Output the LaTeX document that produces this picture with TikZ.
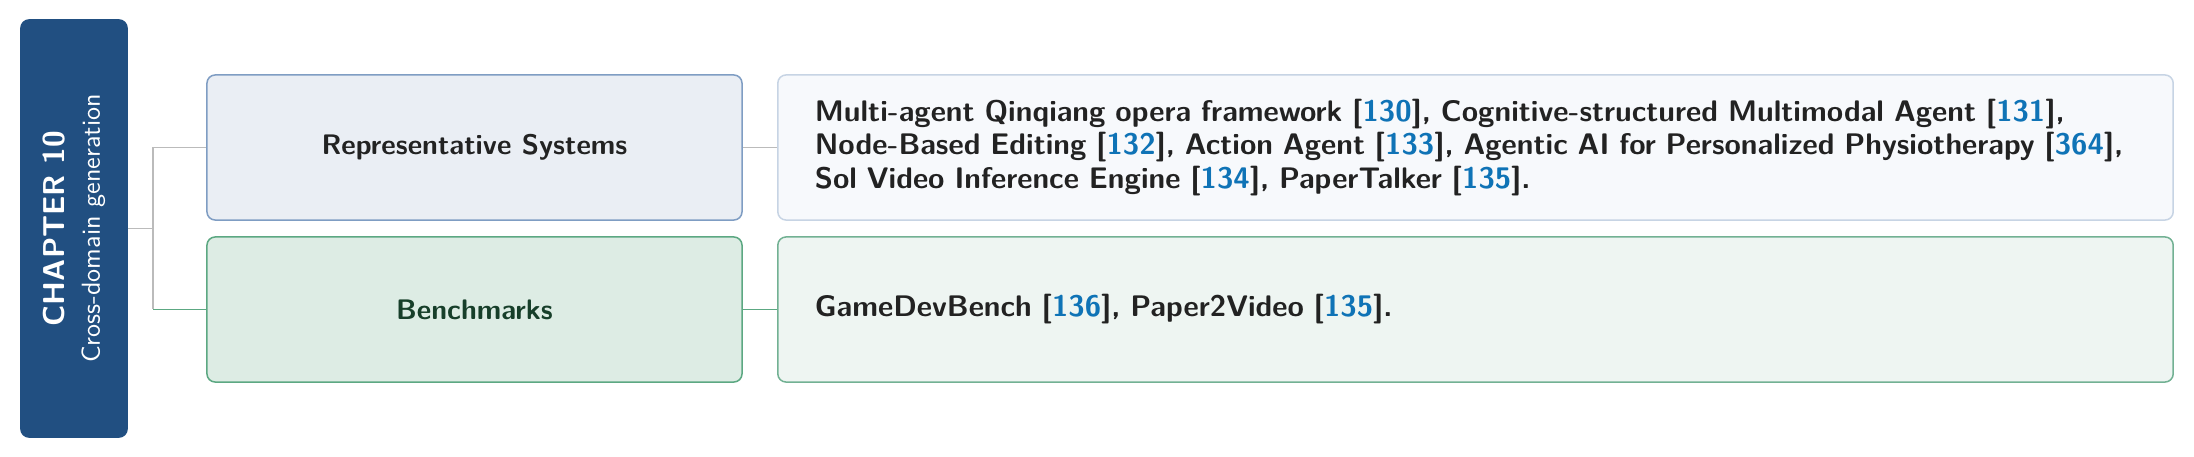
\documentclass[tikz,border=0pt]{standalone}
\usepackage{fontspec}
\definecolor{chapblue}{HTML}{214F81}
\definecolor{rsfill}{HTML}{EAEEF4}
\definecolor{rsdraw}{HTML}{7F9DC3}
\definecolor{rsdfill}{HTML}{F7F9FC}
\definecolor{rsddraw}{HTML}{C7D4E4}
\definecolor{bmfill}{HTML}{DDECE4}
\definecolor{bmdraw}{HTML}{5CA882}
\definecolor{bmdfill}{HTML}{EEF5F2}
\definecolor{bmddraw}{HTML}{72B193}
\definecolor{bmtext}{HTML}{173F2A}
\definecolor{txt}{HTML}{222222}
\definecolor{citeblue}{HTML}{0F73B6}
\definecolor{linegray}{HTML}{BBBBBB}
\newcommand\refn[1]{[{\color{citeblue}#1}]}
\tikzset{
  basebox/.style={rounded corners=3pt, line width=0.55pt, inner sep=0pt},
  chapbox/.style={basebox, draw=chapblue, fill=chapblue, minimum width=38.7pt, minimum height=152.1pt},
  chaptext/.style={rotate=90, align=center, text=white, inner sep=0pt},
  catbox/.style={basebox, minimum width=195.1pt, minimum height=52.9pt, align=center, font=\sffamily\bfseries\fontsize{10.3}{12.3}\selectfont},
  detbox/.style={basebox, minimum height=52.9pt, text width=481.8pt, inner xsep=13.5pt, align=left, font=\sffamily\bfseries\fontsize{10.85}{12.3}\selectfont},
  graylink/.style={draw=linegray, line width=0.5pt},
  greenlink/.style={draw=bmdraw, line width=0.6pt}
}
\begin{document}
\begin{tikzpicture}[x=0.36463pt,y=-0.36463pt, font=\sffamily\bfseries\fontsize{10}{12}\selectfont, text=txt]
\useasboundingbox (0,0) rectangle (2194,457);
\node[chapbox] (chap) at (74,228.5) {};
\node[chaptext] (chaptitle) at (chap.center) {{\fontsize{11}{14.6}\selectfont CHAPTER 10}\\[1pt]{\mdseries\fontsize{9.5}{12}\selectfont Cross-domain generation}};
\node[catbox, draw=rsdraw, fill=rsfill] (rs) at (474.5,147.5) {Representative Systems};
\node[catbox, draw=bmdraw, fill=bmfill, text=bmtext] (bm) at (474.5,309.5) {Benchmarks};
\node[detbox, draw=rsddraw, fill=rsdfill] (rsd) at (1475.5,147.5) {Multi-agent Qinqiang opera framework \refn{130}, Cognitive-structured Multimodal Agent \refn{131},\\
Node-Based Editing \refn{132}, Action Agent \refn{133}, Agentic AI for Personalized Physiotherapy \refn{364},\\
Sol Video Inference Engine \refn{134}, PaperTalker \refn{135}.};
\node[detbox, draw=bmddraw, fill=bmdfill] (bmd) at (1475.5,309.5) {GameDevBench \refn{136}, Paper2Video \refn{135}.};
\coordinate (junc) at (153,228.5);
\draw[graylink] (chap.east) -- (junc);
\draw[graylink] (junc |- rs.west) -- (junc |- bm.west);
\draw[graylink] (junc |- rs.west) -- (rs.west);
\draw[greenlink] (junc |- bm.west) -- (bm.west);
\draw[graylink] (rs.east) -- (rsd.west);
\draw[greenlink] (bm.east) -- (bmd.west);
\end{tikzpicture}
\end{document}
